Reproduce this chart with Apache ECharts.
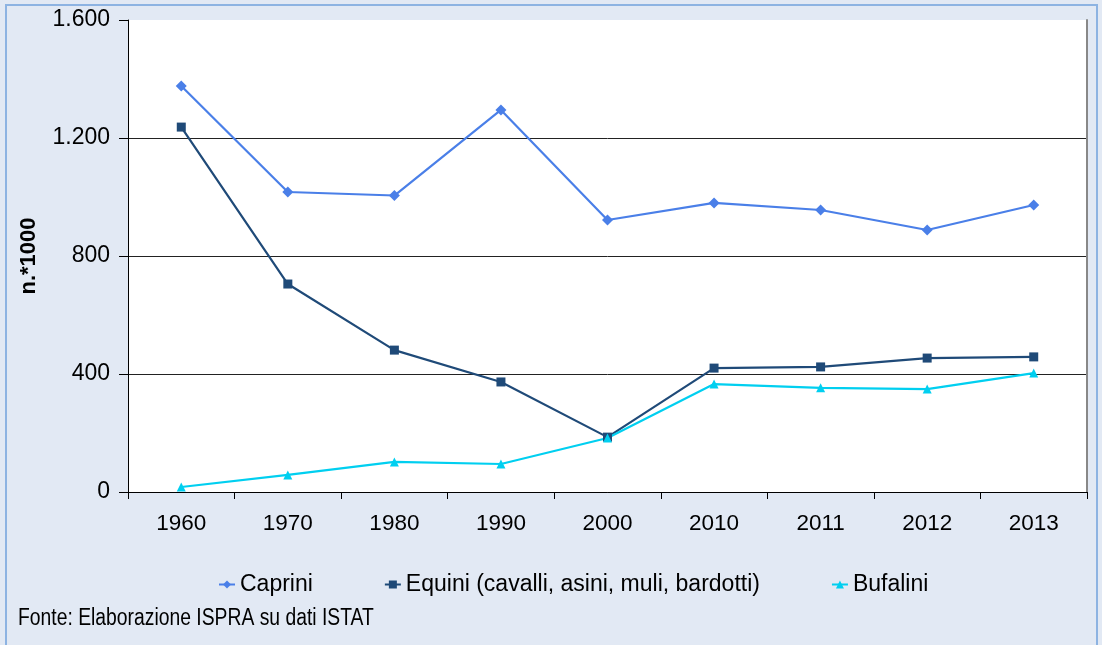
<!DOCTYPE html>
<html>
<head>
<meta charset="utf-8">
<script src="https://cdn.jsdelivr.net/npm/echarts@6/dist/echarts.min.js"></script>
<style>
  html, body { margin: 0; padding: 0; }
  #chart { width: 1102px; height: 645px; }
</style>
</head>
<body>
<div id="chart"></div>
<script>
const years = ['1960', '1970', '1980', '1990', '2000', '2010', '2011', '2012', '2013']
const caprini = [1376, 1017, 1005, 1295, 922, 980, 956, 888, 973]
const equini = [1237, 705, 481, 373, 186, 420, 424, 454, 458]
const bufalini = [17, 58, 102, 95, 183, 366, 353, 349, 403]
const yTicks = [0, 400, 800, 1200, 1600]

const font = '"Liberation Sans", Arial, sans-serif'
const chart = echarts.init(document.getElementById('chart'))

const fmt = (v) => v >= 1000 ? String(v).replace(/(\d)(\d{3})$/, '$1.$2') : String(v)

const lineSeries = (name, data, color, symbol, size) => ({
  name,
  type: 'line',
  data,
  symbol,
  symbolSize: size,
  showAllSymbol: true,
  lineStyle: { color, width: 2.2 },
  itemStyle: { color },
  emphasis: { disabled: true },
})

chart.setOption({
  backgroundColor: '#E2E9F4',
  animation: false,
  textStyle: { fontFamily: font },
  graphic: [
    {
      type: 'rect',
      z: -1,
      shape: { x: 6, y: 5, width: 1091, height: 645 },
      style: { fill: 'none', stroke: '#8DB3E2', lineWidth: 2 },
    },
    {
      type: 'text',
      x: 18,
      y: 619,
      scaleX: 0.84,
      style: {
        x: 0,
        y: 0,
        text: 'Fonte: Elaborazione ISPRA su dati ISTAT',
        font: '23px "Liberation Sans", Arial, sans-serif',
        fill: '#000',
        verticalAlign: 'middle',
      },
    },
  ],
  grid: {
    left: 128,
    right: 15,
    top: 20,
    bottom: 153,
    show: true,
    backgroundColor: '#fff',
    borderWidth: 0,
  },
  legend: {
    left: 213,
    top: 568,
    itemGap: 71,
    itemWidth: 16,
    itemHeight: 10,
    textStyle: { fontSize: 23, color: '#000', fontFamily: font },
    data: ['Caprini', 'Equini (cavalli, asini, muli, bardotti)', 'Bufalini'],
  },
  xAxis: {
    type: 'category',
    data: years,
    boundaryGap: true,
    axisLine: { lineStyle: { color: '#000', width: 1 } },
    axisTick: { show: true, length: 7, alignWithLabel: false, lineStyle: { color: '#000' } },
    axisLabel: { fontSize: 22.5, color: '#000', margin: 20 },
  },
  yAxis: [
    {
      type: 'value',
      min: 0,
      max: 1600,
      interval: 400,
      name: 'n.*1000',
      nameLocation: 'middle',
      nameGap: 88,
      nameTextStyle: { fontSize: 22, fontWeight: 'bold', color: '#000' },
      axisLine: { show: true, lineStyle: { color: '#000' } },
      axisTick: { show: true, length: 9, lineStyle: { color: '#000' } },
      axisLabel: { fontSize: 23, color: '#000', margin: 18, formatter: fmt },
      splitLine: {
        show: true,
        lineStyle: { color: yTicks.map((t) => (t === 1600 ? 'rgba(0,0,0,0)' : '#222')), width: 1 },
      },
    },
    {
      type: 'value',
      position: 'right',
      min: 0,
      max: 1600,
      interval: 400,
      axisLine: { show: true, lineStyle: { color: '#888', width: 2 } },
      axisTick: { show: false },
      axisLabel: { show: false },
      splitLine: { show: false },
    },
  ],
  series: [
    lineSeries('Caprini', caprini, '#4A7FE8', 'diamond', 11),
    lineSeries('Equini (cavalli, asini, muli, bardotti)', equini, '#1F4A78', 'rect', 9),
    lineSeries('Bufalini', bufalini, '#00CFF0', 'triangle', 9),
  ],
})
</script>
</body>
</html>
